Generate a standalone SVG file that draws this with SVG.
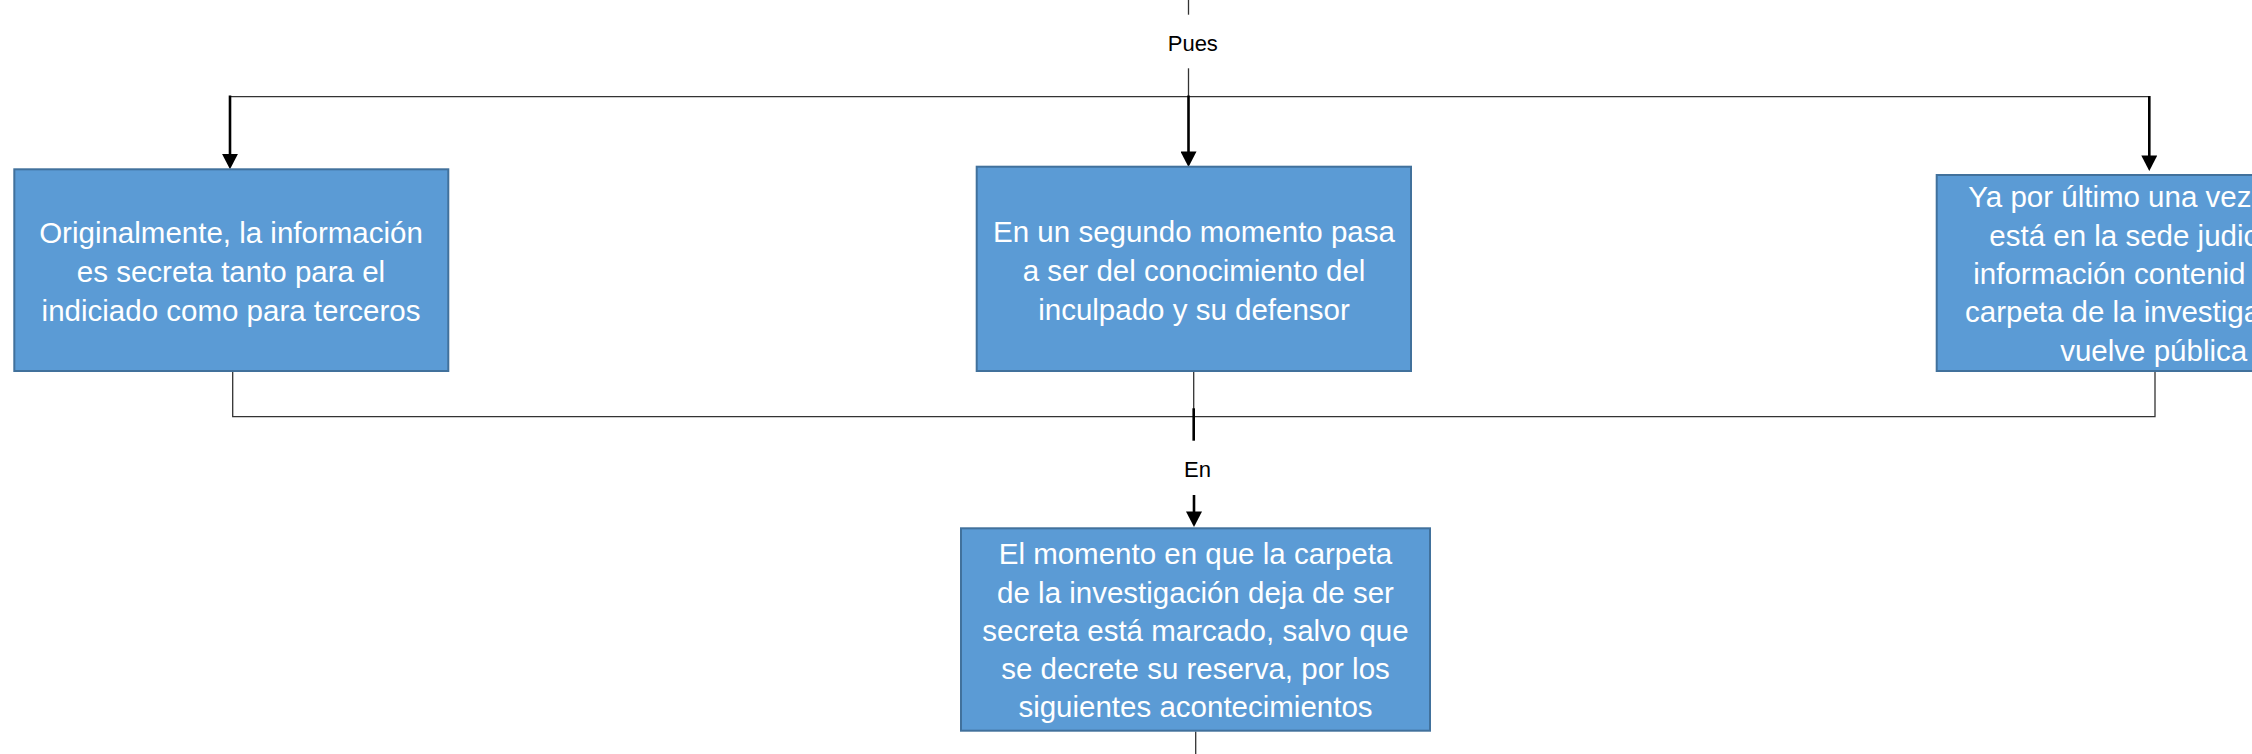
<svg xmlns="http://www.w3.org/2000/svg" width="2252" height="754" viewBox="0 0 2252 754">
<defs>
<marker id="arr" markerUnits="userSpaceOnUse" markerWidth="16" markerHeight="16" viewBox="0 0 15 15.5" refX="5" refY="7.75" orient="auto">
<path d="M0,0 L15,7.75 L0,15.5 z" fill="#000"/>
</marker>
</defs>
<style>
.box{fill:#5B9BD5;stroke:#41719C;stroke-width:2}
.bt{font-family:"Liberation Sans",Arial,sans-serif;font-size:29.5px;fill:#fff;text-anchor:middle}
.bts{font-family:"Liberation Sans",Arial,sans-serif;font-size:29.5px;fill:#fff;text-anchor:start}
.lbl{font-family:"Liberation Sans",Arial,sans-serif;font-size:22px;fill:#000;text-anchor:middle}
.thin{fill:none;stroke:#333;stroke-width:1.3}
.thick{fill:none;stroke:#000;stroke-width:2.6}
</style>
<rect width="2252" height="754" fill="#fff"/>
<g id="connectors">
<line class="thin" x1="1188.5" y1="0" x2="1188.5" y2="14.7"/>
<line class="thin" x1="1188.5" y1="68.3" x2="1188.5" y2="96.7"/>
<polyline class="thin" points="230,96.7 2149.3,96.7"/>
<line class="thick" x1="230" y1="95.5" x2="230" y2="159" marker-end="url(#arr)"/>
<line class="thick" x1="1188.5" y1="95.5" x2="1188.5" y2="156.7" marker-end="url(#arr)"/>
<line class="thick" x1="2149.3" y1="96" x2="2149.3" y2="160.7" marker-end="url(#arr)"/>
<polyline class="thin" points="232.7,372 232.7,416.7 2155,416.7 2155,372"/>
<line class="thin" x1="1193.7" y1="372" x2="1193.7" y2="416.7"/>
<line class="thick" x1="1193.7" y1="408.3" x2="1193.7" y2="440.7"/>
<line class="thick" x1="1194" y1="495" x2="1194" y2="516.7" marker-end="url(#arr)"/>
<line class="thin" x1="1195.7" y1="731.5" x2="1195.7" y2="754"/>
<text class="lbl" x="1192.8" y="50.7">Pues</text>
<text class="lbl" x="1197.5" y="476.7">En</text>
</g>
<g id="node1">
<rect class="box" x="14.3" y="169.3" width="434" height="201.7"/>
<text class="bt" x="231" y="242.7">Originalmente, la información</text>
<text class="bt" x="231" y="282">es secreta tanto para el</text>
<text class="bt" x="231" y="320.5">indiciado como para terceros</text>
</g>
<g id="node2">
<rect class="box" x="976.7" y="166.7" width="434.3" height="204.3"/>
<text class="bt" x="1194" y="242">En un segundo momento pasa</text>
<text class="bt" x="1194" y="281">a ser del conocimiento del</text>
<text class="bt" x="1194" y="320">inculpado y su defensor</text>
</g>
<g id="node3">
<rect class="box" x="1936.7" y="175" width="434" height="196"/>
<text class="bts" x="1968.3" y="206.7">Ya por último una vez</text>
<text class="bts" x="1989.3" y="245.7">está en la sede judic</text>
<text class="bts" x="1973.3" y="284">información contenid</text>
<text class="bts" x="1965" y="322.3">carpeta de la investiga</text>
<text class="bt" x="2153.7" y="360.7">vuelve pública</text>
</g>
<g id="node4">
<rect class="box" x="961" y="528.3" width="469" height="202.4"/>
<text class="bt" x="1195.5" y="564.3">El momento en que la carpeta</text>
<text class="bt" x="1195.5" y="602.5">de la investigación deja de ser</text>
<text class="bt" x="1195.5" y="640.7">secreta está marcado, salvo que</text>
<text class="bt" x="1195.5" y="679">se decrete su reserva, por los</text>
<text class="bt" x="1195.5" y="717.3">siguientes acontecimientos</text>
</g>
</svg>
